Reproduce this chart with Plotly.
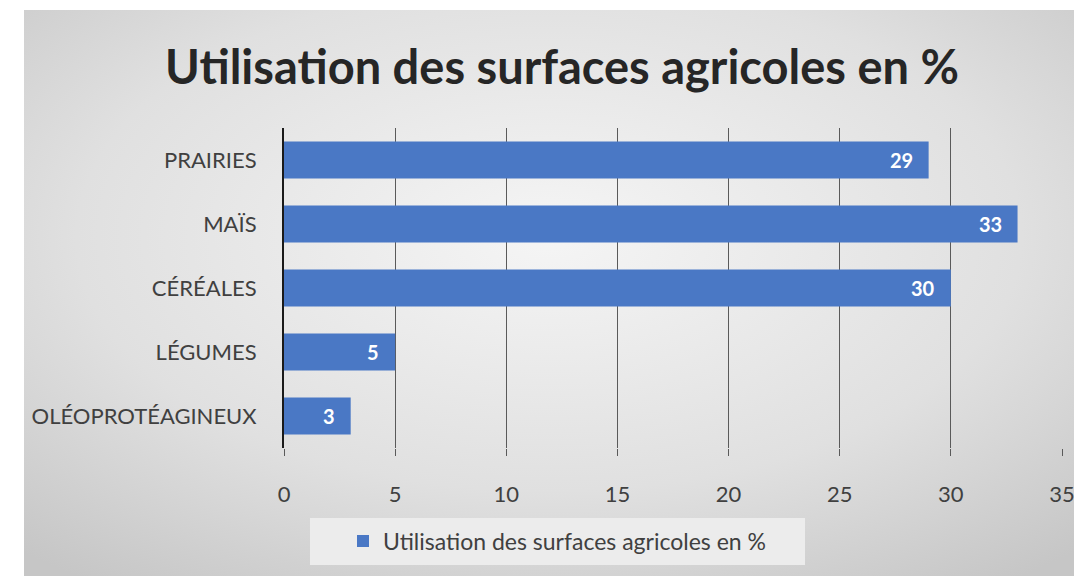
import plotly.graph_objects as go
import base64

categories = ["PRAIRIES", "MAÏS", "CÉRÉALES", "LÉGUMES", "OLÉOPROTÉAGINEUX"]
values = [29, 33, 30, 5, 3]
series_name = "Utilisation des surfaces agricoles en %"
title_text = "Utilisation des surfaces agricoles en %"
x_ticks = [0, 5, 10, 15, 20, 25, 30, 35]

W, H = 1074, 576
L, R, T, B = 284, 12, 128, 128
pw, ph = W - L - R, H - T - B

svg = (
    '<svg xmlns="http://www.w3.org/2000/svg" width="1050" height="566">'
    '<defs><radialGradient id="g" cx="0.5" cy="0.4" r="0.75">'
    '<stop offset="0" stop-color="#f5f5f5"/>'
    '<stop offset="0.6" stop-color="#e0e0e0"/>'
    '<stop offset="1" stop-color="#c6c6c6"/>'
    '</radialGradient></defs>'
    '<rect width="1050" height="566" fill="url(#g)"/></svg>'
)
src = "data:image/svg+xml;base64," + base64.b64encode(svg.encode()).decode()

def px_x(p):
    return (p - L) / pw

def px_y(p):
    return (H - B - p) / ph

fig = go.Figure()
fig.add_trace(go.Bar(
    y=categories, x=values, orientation="h", name=series_name,
    marker=dict(color="#4a78c5", line=dict(width=0)),
    showlegend=True, hoverinfo="x+y",
))

annotations = [
    dict(x=v, y=c, xref="x", yref="y", text=str(v), showarrow=False,
         xanchor="right", yanchor="middle", xshift=-14,
         font=dict(family="Lato", size=20, color="white", weight="bold"))
    for c, v in zip(categories, values)
]

fig.update_layout(
    width=W, height=H,
    margin=dict(l=L, r=R, t=T, b=B, autoexpand=False),
    paper_bgcolor="white", plot_bgcolor="rgba(0,0,0,0)",
    images=[dict(source=src, xref="paper", yref="paper",
                 x=px_x(24), y=px_y(10), sizex=(W - 24) / pw, sizey=(H - 10) / ph,
                 xanchor="left", yanchor="top", sizing="stretch", layer="below")],
    title=dict(text=title_text, x=px_x(562), xref="paper", xanchor="center", y=1 - 68 / H, yanchor="middle",
               font=dict(family="Lato", size=47, color="#262626", weight="bold")),
    bargap=0.42,
    xaxis=dict(range=[0, 35], tickvals=x_ticks, showgrid=True, gridcolor="#5a5a5a", gridwidth=1,
               zeroline=False, showline=False, ticks="outside", ticklen=7, tickcolor="#5a5a5a",
               ticklabelstandoff=20, ticklabeloverflow="allow", automargin=False,
               tickfont=dict(family="Lato", size=22, color="#404040")),
    yaxis=dict(categoryorder="array", categoryarray=categories[::-1], autorange=True,
               showline=True, linecolor="#1a1a1a", linewidth=2, ticks="", showgrid=False,
               ticklabelstandoff=21, automargin=False,
               tickfont=dict(family="Lato", size=22, color="#404040")),
    legend=dict(orientation="h", x=px_x(343), y=px_y(541), xanchor="left", yanchor="middle",
                bgcolor="rgba(0,0,0,0)", font=dict(family="Lato", size=23, color="#404040"),
                itemwidth=30),
    shapes=[dict(type="rect", xref="paper", yref="paper", x0=px_x(310), x1=px_x(805),
                 y0=px_y(518), y1=px_y(565), fillcolor="#ececec", line=dict(width=0), layer="below")],
    annotations=annotations,
)

fig.write_html(
    "out.html",
    config={"responsive": False, "displayModeBar": False},
    post_script="document.body.style.margin='0px';document.body.style.overflow='hidden';",
)
